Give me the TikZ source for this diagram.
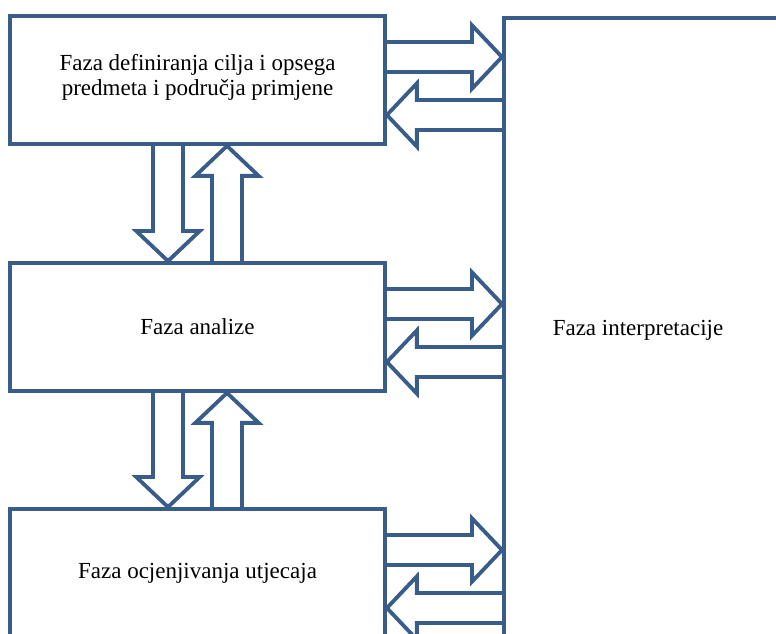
\documentclass[tikz,border=0pt]{standalone}
\usepackage{fontspec}
\setmainfont{Liberation Serif}
\usetikzlibrary{calc}
\definecolor{frame}{HTML}{385D8A}
\tikzset{
	phase/.style={draw=frame, line width=2.3pt, minimum width=225pt, minimum height=76.8pt, align=center, font=\fontsize{13.8}{15}\selectfont},
	blockarr/.style={draw=frame, line width=2.3pt, line join=miter}
}
\def\blockarrow#1#2{
	\coordinate (hb) at ($(#2)!18pt!(#1)$);
	\draw[blockarr] ($(#1)!9pt!90:(#2)$) -- ($(hb)!9pt!90:(#2)$) -- ($(hb)!19pt!90:(#2)$) -- (#2) -- ($(hb)!19pt!-90:(#2)$) -- ($(hb)!9pt!-90:(#2)$) -- ($(#1)!9pt!-90:(#2)$);
}

\begin{document}
\begin{tikzpicture}[x=0.6pt, y=-0.6pt]
				\useasboundingbox (0,0) rectangle (776,634);
				\clip (0,0) rectangle (776,634);
				
				\node[phase] (def) at (197.5, 80) {Faza definiranja cilja i opsega\\predmeta i područja primjene\\[-9pt]};
				\node[phase] (ana) at (197.5, 327) {Faza analize};
				\node[phase] (ocj) at (197.5, 573) {Faza ocjenjivanja utjecaja};
				
				\node[phase, anchor=north west, minimum width=200pt, minimum height=420pt] (interp) at (502, 16) {};
				\node[font=\fontsize{13.8}{15}\selectfont] (interptext) at (638, 330) {Faza interpretacije};
				
				\foreach \b in {def,ana,ocj}{
					\coordinate (\b-out) at ($(\b.east)+(0,-23)$);
					\coordinate (\b-in) at ($(\b.east)+(0,35)$);
					\blockarrow{\b-out}{\b-out -| interp.west}
					\blockarrow{\b-in -| interp.west}{\b-in}
				}
				
				\foreach \u/\l in {def/ana, ana/ocj}{
					\coordinate (\u-dn) at ($(\u.south)+(-29.5,0)$);
					\coordinate (\u-up) at ($(\u.south)+(29.5,0)$);
					\blockarrow{\u-dn}{\u-dn |- \l.north}
					\blockarrow{\u-up |- \l.north}{\u-up}
				}
			\end{tikzpicture}
\end{document}
